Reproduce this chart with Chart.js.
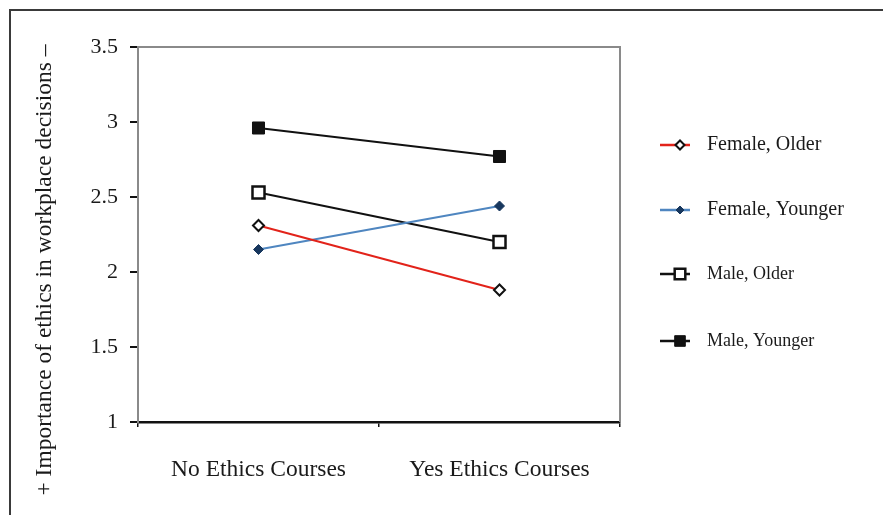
<!DOCTYPE html>
<html>
<head>
<meta charset="utf-8">
<script src="https://cdn.jsdelivr.net/npm/chart.js@4.4.1/dist/chart.umd.min.js"></script>
<style>
  html, body { margin: 0; padding: 0; background: #fff; }
  #wrap { width: 883px; height: 515px; position: relative; }
</style>
</head>
<body>
<div id="wrap"><canvas id="chart" width="883" height="515"></canvas></div>
<script>
// categories and series
const categories = ['No Ethics Courses', 'Yes Ethics Courses'];
const femaleOlder = [2.31, 1.88];
const femaleYounger = [2.15, 2.44];
const maleOlder = [2.53, 2.20];
const maleYounger = [2.96, 2.77];
const yTicks = [1, 1.5, 2, 2.5, 3, 3.5];
const yTitle = '+ Importance of ethics in workplace decisions \u2013';

const SERIF = '"Liberation Serif", "DejaVu Serif", serif';

const datasets = [
    { label: 'Female, Older', data: femaleOlder, borderColor: '#e2231a', pointStyle: 'rectRot',
      pointRadius: 5.5, pointBackgroundColor: '#fff', pointBorderColor: '#111', pointBorderWidth: 2, legendFont: 20 },
    { label: 'Female, Younger', data: femaleYounger, borderColor: '#4f86c0', pointStyle: 'rectRot',
      pointRadius: 5, pointBackgroundColor: '#17375e', pointBorderColor: '#17375e', pointBorderWidth: 1, legendFont: 20 },
    { label: 'Male, Older', data: maleOlder, borderColor: '#111', pointStyle: 'rect',
      pointRadius: 8.5, pointBackgroundColor: '#fff', pointBorderColor: '#111', pointBorderWidth: 2.5, legendFont: 18 },
    { label: 'Male, Younger', data: maleYounger, borderColor: '#111', pointStyle: 'rect',
      pointRadius: 8.5, pointBackgroundColor: '#111', pointBorderColor: '#111', pointBorderWidth: 1, legendFont: 18 }
].map(d => Object.assign({ borderWidth: 2, fill: false, tension: 0 }, d));

// frame, outer border, rotated y title and the legend on the right
const decorations = {
    id: 'decorations',
    beforeDraw(chart) {
        const ctx = chart.ctx;
        ctx.save();
        ctx.fillStyle = '#fff';
        ctx.fillRect(0, 0, chart.width, chart.height);
        ctx.restore();
    },
    afterDraw(chart) {
        const ctx = chart.ctx;
        const a = chart.chartArea;
        ctx.save();
        // outer picture border (top and left only)
        ctx.strokeStyle = '#3a3a3a';
        ctx.lineWidth = 2;
        ctx.beginPath();
        ctx.moveTo(10, chart.height);
        ctx.lineTo(10, 10);
        ctx.lineTo(chart.width, 10);
        ctx.stroke();
        // plot frame top + right
        ctx.strokeStyle = '#8a8a8a';
        ctx.lineWidth = 2;
        ctx.beginPath();
        ctx.moveTo(a.left, a.top);
        ctx.lineTo(a.right, a.top);
        ctx.lineTo(a.right, a.bottom);
        ctx.stroke();
        // y title
        ctx.fillStyle = '#1a1a1a';
        ctx.font = '23.5px ' + SERIF;
        ctx.textAlign = 'center';
        ctx.textBaseline = 'middle';
        ctx.translate(45, 270);
        ctx.rotate(-Math.PI / 2);
        ctx.fillText(yTitle, 0, 0);
        ctx.restore();

        // legend
        const rows = [145, 210, 274, 341];
        chart.data.datasets.forEach((ds, i) => {
            const y = rows[i];
            ctx.save();
            ctx.strokeStyle = ds.borderColor;
            ctx.lineWidth = 2.5;
            ctx.beginPath();
            ctx.moveTo(660, y);
            ctx.lineTo(690, y);
            ctx.stroke();
            ctx.fillStyle = ds.pointBackgroundColor;
            ctx.strokeStyle = ds.pointBorderColor;
            ctx.lineWidth = ds.pointBorderWidth;
            Chart.helpers.drawPoint(ctx, { pointStyle: ds.pointStyle, rotation: 0, radius: ds.pointRadius - 1, borderWidth: ds.pointBorderWidth }, 680, y);
            ctx.fillStyle = '#1a1a1a';
            ctx.font = ds.legendFont + 'px ' + SERIF;
            ctx.textAlign = 'left';
            ctx.textBaseline = 'middle';
            ctx.fillText(ds.label, 707, y);
            ctx.restore();
        });
    }
};

new Chart(document.getElementById('chart'), {
    type: 'line',
    data: { labels: categories, datasets: datasets },
    options: {
        responsive: false,
        animation: false,
        layout: { padding: { top: 47, right: 263, bottom: 0, left: 0 } },
        plugins: { legend: { display: false }, tooltip: { enabled: false } },
        scales: {
            x: {
                offset: true,
                afterFit: s => { s.height = 93; },
                grid: { offset: true, drawOnChartArea: false, tickLength: 5, color: '#111', lineWidth: 1.5 },
                border: { color: '#111', width: 2.5 },
                ticks: { color: '#1a1a1a', font: { family: SERIF, size: 23.5 }, padding: 29, maxRotation: 0 }
            },
            y: {
                min: yTicks[0],
                max: yTicks[yTicks.length - 1],
                afterFit: s => { s.width = 138; },
                afterBuildTicks: s => { s.ticks = yTicks.map(v => ({ value: v })); },
                grid: { drawOnChartArea: false, tickLength: 8, color: '#111', lineWidth: 2 },
                border: { color: '#8a8a8a', width: 2 },
                ticks: { color: '#1a1a1a', font: { family: SERIF, size: 22 }, padding: 12, callback: v => String(v) }
            }
        }
    },
    plugins: [decorations]
});
</script>
</body>
</html>
